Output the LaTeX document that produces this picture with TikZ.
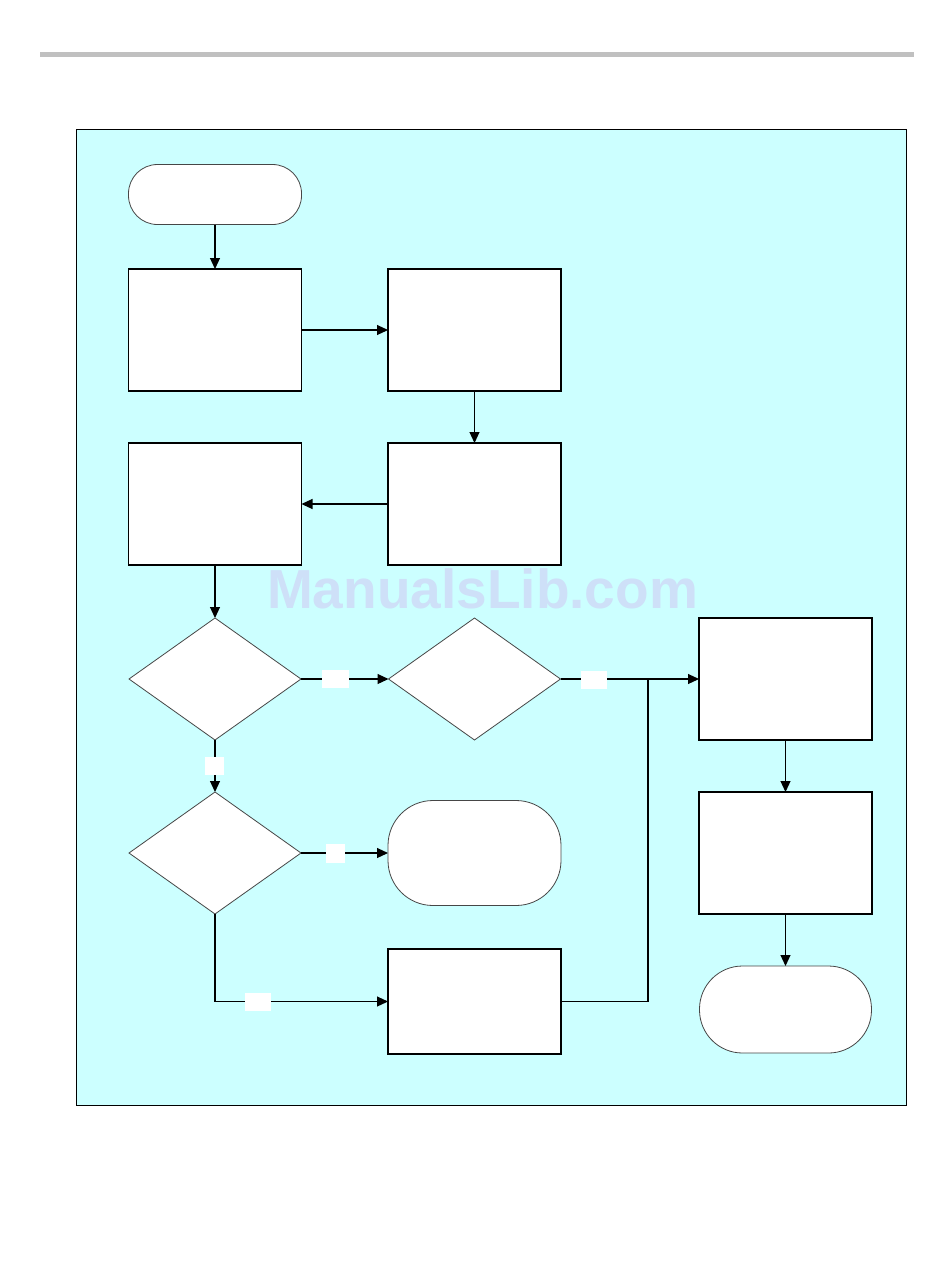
\documentclass[tikz,border=0pt]{standalone}
\usepackage{fontspec}
\setmainfont{Liberation Sans}
\usetikzlibrary{shapes.geometric,arrows.meta}
\definecolor{panel}{RGB}{204,255,255}
\definecolor{wm}{RGB}{206,224,248}
\definecolor{bar}{RGB}{192,192,192}
\definecolor{dgray}{RGB}{70,70,70}
\begin{document}
\begin{tikzpicture}[x=1pt,y=-1pt,
  box/.style={draw=black,line width=1.1pt,fill=white,minimum width=173pt,minimum height=122pt,inner sep=0pt,outer sep=0pt},
  dec/.style={diamond,draw=dgray,line width=0.8pt,fill=white,minimum width=172pt,minimum height=122pt,inner sep=0pt,outer sep=0pt},
  term/.style={draw=dgray,line width=0.8pt,fill=white,inner sep=0pt,outer sep=0pt,minimum width=173pt},
  lab/.style={fill=white,inner sep=0pt,minimum height=18pt},
  conn/.style={line width=1.1pt,-{Triangle[length=11pt,width=10pt]}},
  plainline/.style={line width=1.1pt}]
\useasboundingbox (0,0) rectangle (950,1286);
\fill[white] (0,0) rectangle (950,1286);
\fill[bar] (40,51.5) rectangle (914,57);
\draw[fill=panel,line width=1.3pt] (76.5,129.5) rectangle (906.5,1105.5);
\node[font=\bfseries\fontsize{55}{55}\selectfont,text=wm,anchor=base,inner sep=0pt] (wm) at (482.5,608) {ManualsLib.com};
% nodes
\node[term,rounded corners=29pt,minimum height=60pt] (start) at (215,194.5) {};
\node[box] (b1) at (215,330) {};
\node[box] (b2) at (474.5,330) {};
\node[box] (b3) at (215,504) {};
\node[box] (b4) at (474.5,504) {};
\node[dec] (d1) at (215,679) {};
\node[dec] (d2) at (474.5,679) {};
\node[box] (b5) at (785.5,679) {};
\node[dec] (d3) at (215,853) {};
\node[term,rounded corners=45pt,minimum height=105pt] (mid) at (474.5,853) {};
\node[box] (b6) at (785.5,853) {};
\node[box,minimum height=105pt] (b7) at (474.5,1001.5) {};
\node[term,rounded corners=43pt,minimum width=172pt,minimum height=87pt] (stop) at (785.5,1009.5) {};
\coordinate (jn) at (648,679);
% connectors
\draw[conn] (start) -- (b1);
\draw[conn] (b1) -- (b2);
\draw[conn] (b2) -- (b4);
\draw[conn] (b4) -- (b3);
\draw[conn] (b3) -- (d1);
\draw[conn] (d1) -- (d2);
\draw[conn] (d2) -- (b5);
\draw[conn] (d1) -- (d3);
\draw[conn] (d3) -- (mid);
\draw[conn] (d3.south) |- (b7.west);
\draw[plainline] (b7.east) -| (jn);
\draw[conn] (b5) -- (b6);
\draw[conn] (b6) -- (stop);
% labels
\node[lab,minimum width=27pt] (l1) at (335.5,679) {};
\node[lab,minimum width=26pt] (l2) at (594,679.5) {};
\node[lab,minimum width=19pt] (l3) at (214.5,766) {};
\node[lab,minimum width=19pt,minimum height=19pt] (l4) at (335.5,853) {};
\node[lab,minimum width=26pt] (l5) at (258,1001.5) {};
\end{tikzpicture}
\end{document}
